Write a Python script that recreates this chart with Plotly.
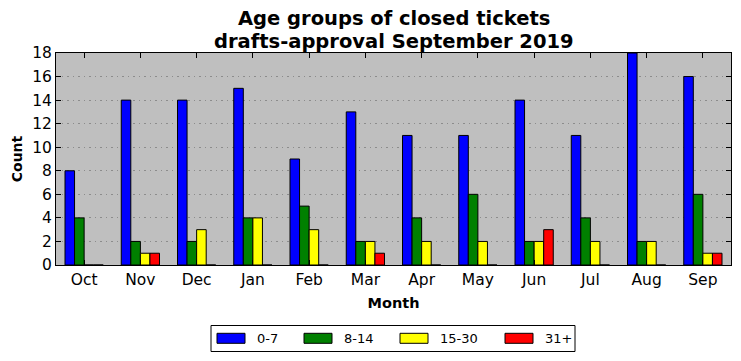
import plotly.graph_objects as go

months = ["Oct", "Nov", "Dec", "Jan", "Feb", "Mar", "Apr", "May", "Jun", "Jul", "Aug", "Sep"]
age_0_7 = [8, 14, 14, 15, 9, 13, 11, 11, 14, 11, 18, 16]
age_8_14 = [4, 2, 2, 4, 5, 2, 4, 6, 2, 4, 2, 6]
age_15_30 = [0, 1, 3, 4, 3, 2, 2, 2, 2, 2, 2, 1]
age_31p = [0, 1, 0, 0, 0, 1, 0, 0, 3, 0, 0, 1]
series_names = ["0-7", "8-14", "15-30", "31+"]
colors = ["#0000ff", "#008000", "#ffff00", "#ff0000"]
yticks = list(range(0, 19, 2))
title_lines = ["Age groups of closed tickets", "drafts-approval September 2019"]

# layout geometry (pixels of the plot area, used only for the hand-drawn legend)
PL, PT, PW, PH = 48, 45, 675, 212
def px(X):  # screen x of the reference -> paper
    return (X - 8 - PL) / PW
def py(Y):
    return (PT + PH - (Y - 8)) / PH

fig = go.Figure()
for name, vals, c in zip(series_names, [age_0_7, age_8_14, age_15_30, age_31p], colors):
    fig.add_trace(go.Bar(x=months, y=vals, name=name, showlegend=False,
                         marker=dict(color=c, line=dict(color="black", width=1))))

fig.update_layout(
    width=733, height=353,
    margin=dict(l=PL, r=733 - PL - PW, t=PT, b=353 - PT - PH, autoexpand=False),
    paper_bgcolor="white", plot_bgcolor="#bfbfbf",
    font=dict(family="DejaVu Sans", size=12, color="black"),
    barmode="group", bargap=0.32, bargroupgap=0,
    showlegend=False,
)
for txt, yy in zip(title_lines, [py(19), py(41)]):
    fig.add_annotation(text="<b>%s</b>" % txt, xref="paper", yref="paper", x=0.5, y=yy,
                       xanchor="center", yanchor="middle", showarrow=False, font=dict(size=19.5))

# legend box
fig.add_shape(type="rect", xref="paper", yref="paper", x0=px(211), x1=px(575), y0=py(351.5), y1=py(325.5),
              line=dict(color="black", width=1), fillcolor="white", layer="above")
swatch_x = [217, 304, 400, 505]
for sx, name, c in zip(swatch_x, series_names, colors):
    fig.add_shape(type="rect", xref="paper", yref="paper", x0=px(sx), x1=px(sx + 28),
                  y0=py(343.3), y1=py(333.3), line=dict(color="black", width=1), fillcolor=c, layer="above")
    fig.add_annotation(text=name, xref="paper", yref="paper", x=px(sx + 38), y=py(338.5),
                       xanchor="left", yanchor="middle", showarrow=False, font=dict(size=13))

fig.update_xaxes(
    title=dict(text="<b>Month</b>", font=dict(size=14.5), standoff=10),
    range=[-0.5, 11.5], showline=True, linecolor="black", linewidth=1, mirror="ticks",
    ticks="inside", ticklen=5, tickcolor="black", showgrid=False, tickfont=dict(size=15.5),
    automargin=False,
)
fig.update_yaxes(
    title=dict(text="<b>Count</b>", font=dict(size=14), standoff=6),
    range=[0, 18], tickvals=yticks, showline=True, linecolor="black", linewidth=1, mirror="ticks",
    ticks="inside", ticklen=5, tickcolor="black", showgrid=True, gridcolor="#8c8c8c",
    griddash="1.5px,4px", gridwidth=1, zeroline=False, tickfont=dict(size=15.5),
    automargin=False,
)
fig.write_html("out.html")
